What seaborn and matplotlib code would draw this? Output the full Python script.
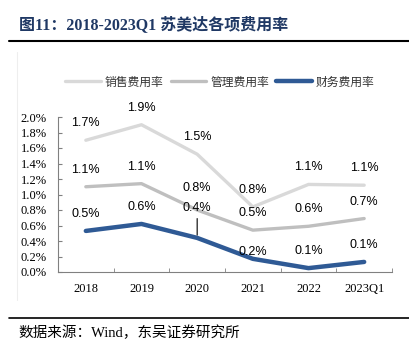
import matplotlib
matplotlib.use("Agg")
import matplotlib.pyplot as plt
from matplotlib.lines import Line2D
from matplotlib.ticker import FuncFormatter, MultipleLocator, FixedLocator
import numpy as np
import pandas as pd
import seaborn as sns

# data (percent)
years = ["2018", "2019", "2020", "2021", "2022", "2023Q1"]
sales_rate = [1.70, 1.90, 1.52, 0.84, 1.13, 1.12]
admin_rate = [1.10, 1.14, 0.80, 0.54, 0.59, 0.69]
finance_rate = [0.53, 0.62, 0.44, 0.17, 0.05, 0.13]
series_names = ["销售费用率", "管理费用率", "财务费用率"]

df = pd.DataFrame({
    "year": years * 3,
    "rate": sales_rate + admin_rate + finance_rate,
    "series": np.repeat(series_names, len(years)),
})

sns.set_style("ticks")
plt.rcParams["font.family"] = ["Liberation Serif", "Noto Sans CJK SC"]

fig = plt.figure(figsize=(4.09, 3.5), dpi=100)
ax = fig.add_axes([58 / 409, 1 - 272 / 350, (392 - 58) / 409, (272 - 117) / 350])

palette = {"销售费用率": "#D9D9D9", "管理费用率": "#BFBFBF", "财务费用率": "#2F5A95"}
sns.lineplot(data=df, x="year", y="rate", hue="series", palette=palette,
             linewidth=2.4, estimator=None, sort=False, legend=False, ax=ax)
ax.lines[2].set_linewidth(3.2)
for ln in ax.lines[:3]:
    ln.set_solid_capstyle("round")
    ln.set_solid_joinstyle("round")

ax.set_xlim(-0.5, 5.5)
ax.set_ylim(0, 2.0)
ax.yaxis.set_major_locator(MultipleLocator(0.2))
ax.yaxis.set_major_formatter(FuncFormatter(lambda v, p: f"{v:.1f}%"))
ax.xaxis.set_minor_locator(FixedLocator(np.arange(0.5, 6, 1)))
ax.tick_params(axis="x", which="major", length=0, pad=8, labelsize=9, labelcolor="black")
ax.tick_params(axis="x", which="minor", direction="in", length=3, color="#808080")
ax.tick_params(axis="y", direction="in", length=3, color="#808080", pad=8,
               labelsize=9, labelcolor="black")
ax.set_xlabel("")
ax.set_ylabel("")
sns.despine(ax=ax)
for s in ["left", "bottom"]:
    ax.spines[s].set_color("#808080")
    ax.spines[s].set_linewidth(0.8)

# data labels
offsets = {("管理费用率", 2): 22, ("财务费用率", 2): 30, ("财务费用率", 3): 7}
for name, vals in zip(series_names, [sales_rate, admin_rate, finance_rate]):
    for i, v in enumerate(vals):
        off = offsets.get((name, i), 17)
        kw = {}
        if (name, i) == ("财务费用率", 2):
            kw["arrowprops"] = dict(arrowstyle="-", color="black", lw=0.8,
                                    shrinkA=1, shrinkB=2)
        ax.annotate(f"{v:.1f}%", (years[i], v), xytext=(0, off),
                    textcoords="offset pixels", ha="center", va="center",
                    family="Liberation Sans", fontsize=9, color="black", **kw)

ax.legend(ax.lines[:3], series_names, loc="center",
          bbox_to_anchor=(220 / 409, 1 - 82 / 350), bbox_transform=fig.transFigure,
          ncol=3, frameon=False, handlelength=3.0, handletextpad=0.35,
          columnspacing=0.6, prop={"family": "Noto Sans CJK SC", "size": 8.5},
          labelcolor="#333333")

# title, rules, source
fig.text(19 / 409, 1 - 25 / 350, "图11：2018-2023Q1 苏美达各项费用率",
         family=["Liberation Serif", "Noto Sans CJK SC"], weight="bold",
         fontsize=11.5, color="#1F3864", va="center", ha="left")
fig.add_artist(Line2D([9 / 409, 1], [1 - 41 / 350] * 2, color="black", lw=1.5))
fig.add_artist(Line2D([9 / 409, 1], [1 - 318 / 350] * 2, color="black", lw=1.2))
fig.add_artist(Line2D([17 / 409] * 2, [1 - 52 / 350, 1 - 300 / 350], color="#EEEEEE", lw=0.8))
fig.text(18 / 409, 1 - 333 / 350, "数据来源：Wind，东吴证券研究所",
         family=["Liberation Serif", "Noto Sans CJK SC"], fontsize=10.5,
         color="black", va="center", ha="left")

fig.savefig("out.png", dpi=100)
